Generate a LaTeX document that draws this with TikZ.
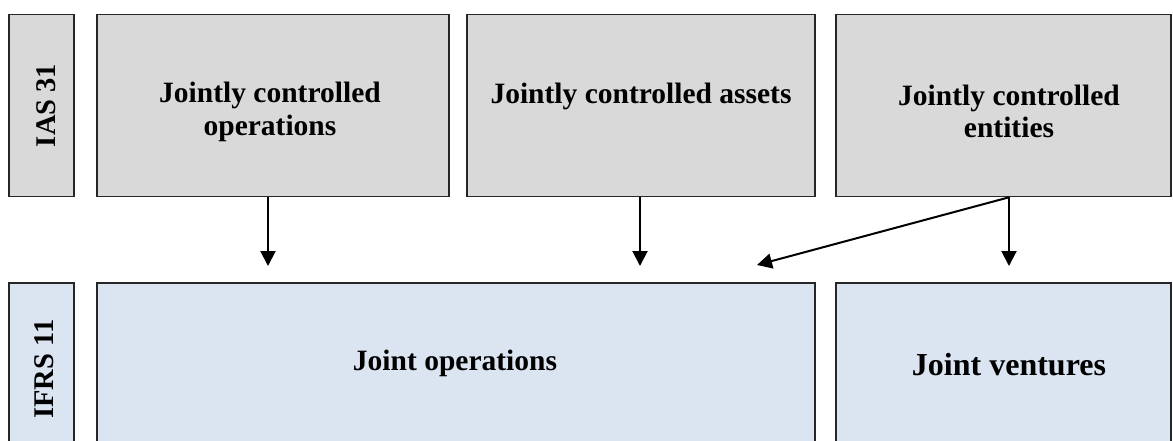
\documentclass[tikz,border=0pt]{standalone}
\usepackage{fontspec}
\setmainfont{Liberation Serif}
\usetikzlibrary{arrows.meta}
\definecolor{oldgray}{HTML}{D9D9D9}
\definecolor{newblue}{HTML}{DBE5F1}
\tikzset{
  box/.style={draw=black!85, line width=1.6pt, inner sep=0pt, rectangle},
  oldbox/.style={box, fill=oldgray},
  newbox/.style={box, fill=newblue},
  lbl/.style={font=\bfseries\fontsize{29.5}{33}\selectfont, inner sep=0pt, align=center},
  biglbl/.style={font=\bfseries\fontsize{32}{36}\selectfont, inner sep=0pt},
  sidelbl/.style={font=\bfseries\fontsize{28.5}{32}\selectfont, inner sep=0pt, rotate=90},
  arr/.style={line width=2pt, -{Triangle[width=15pt,length=15pt]}}
}
\begin{document}
\begin{tikzpicture}[x=1pt,y=-1pt]
\useasboundingbox (0,0) rectangle (1173,440);
\clip (0,0) rectangle (1173,440);

% IAS 31 row
\node[oldbox, minimum width=65, minimum height=182] (ias) at (41.5,105.5) {};
\node[oldbox, minimum width=352, minimum height=182] (jco) at (273,105.5) {};
\node[oldbox, minimum width=348, minimum height=182] (jca) at (641,105.5) {};
\node[oldbox, minimum width=335, minimum height=182] (jce) at (1003.5,105.5) {};

\node[sidelbl] (iaslbl) at (46,105.5) {IAS 31};
\node[lbl, anchor=base] (jco1) at (270,102.7) {Jointly controlled};
\node[lbl, anchor=base] (jco2) at (270,135) {operations};
\node[lbl, anchor=base] (jcalbl) at (641,103) {Jointly controlled assets};
\node[lbl, anchor=base] (jce1) at (1009,105) {Jointly controlled};
\node[lbl, anchor=base] (jce2) at (1009,137) {entities};

% IFRS 11 row
\node[newbox, minimum width=65, minimum height=180] (ifrs) at (41.5,373) {};
\node[newbox, minimum width=718, minimum height=180] (jo) at (456,373) {};
\node[newbox, minimum width=335, minimum height=180] (jv) at (1003.5,373) {};

\node[sidelbl] (ifrslbl) at (44,369) {IFRS 11};
\node[lbl, anchor=base] (jolbl) at (455,370.7) {Joint operations};
\node[biglbl, anchor=base] (jvlbl) at (1009,375) {Joint ventures};

% connectors
\coordinate (t1) at (268,266);
\coordinate (t2) at (640,266);
\coordinate (t3) at (1009,266);
\coordinate (t4) at (757,265);
\draw[arr] (jco.south -| t1) -- (t1);
\draw[arr] (jca.south -| t2) -- (t2);
\draw[arr] (jce.south -| t3) -- (t3);
\draw[arr] (jce.south -| t3) -- (t4);
\end{tikzpicture}
\end{document}
